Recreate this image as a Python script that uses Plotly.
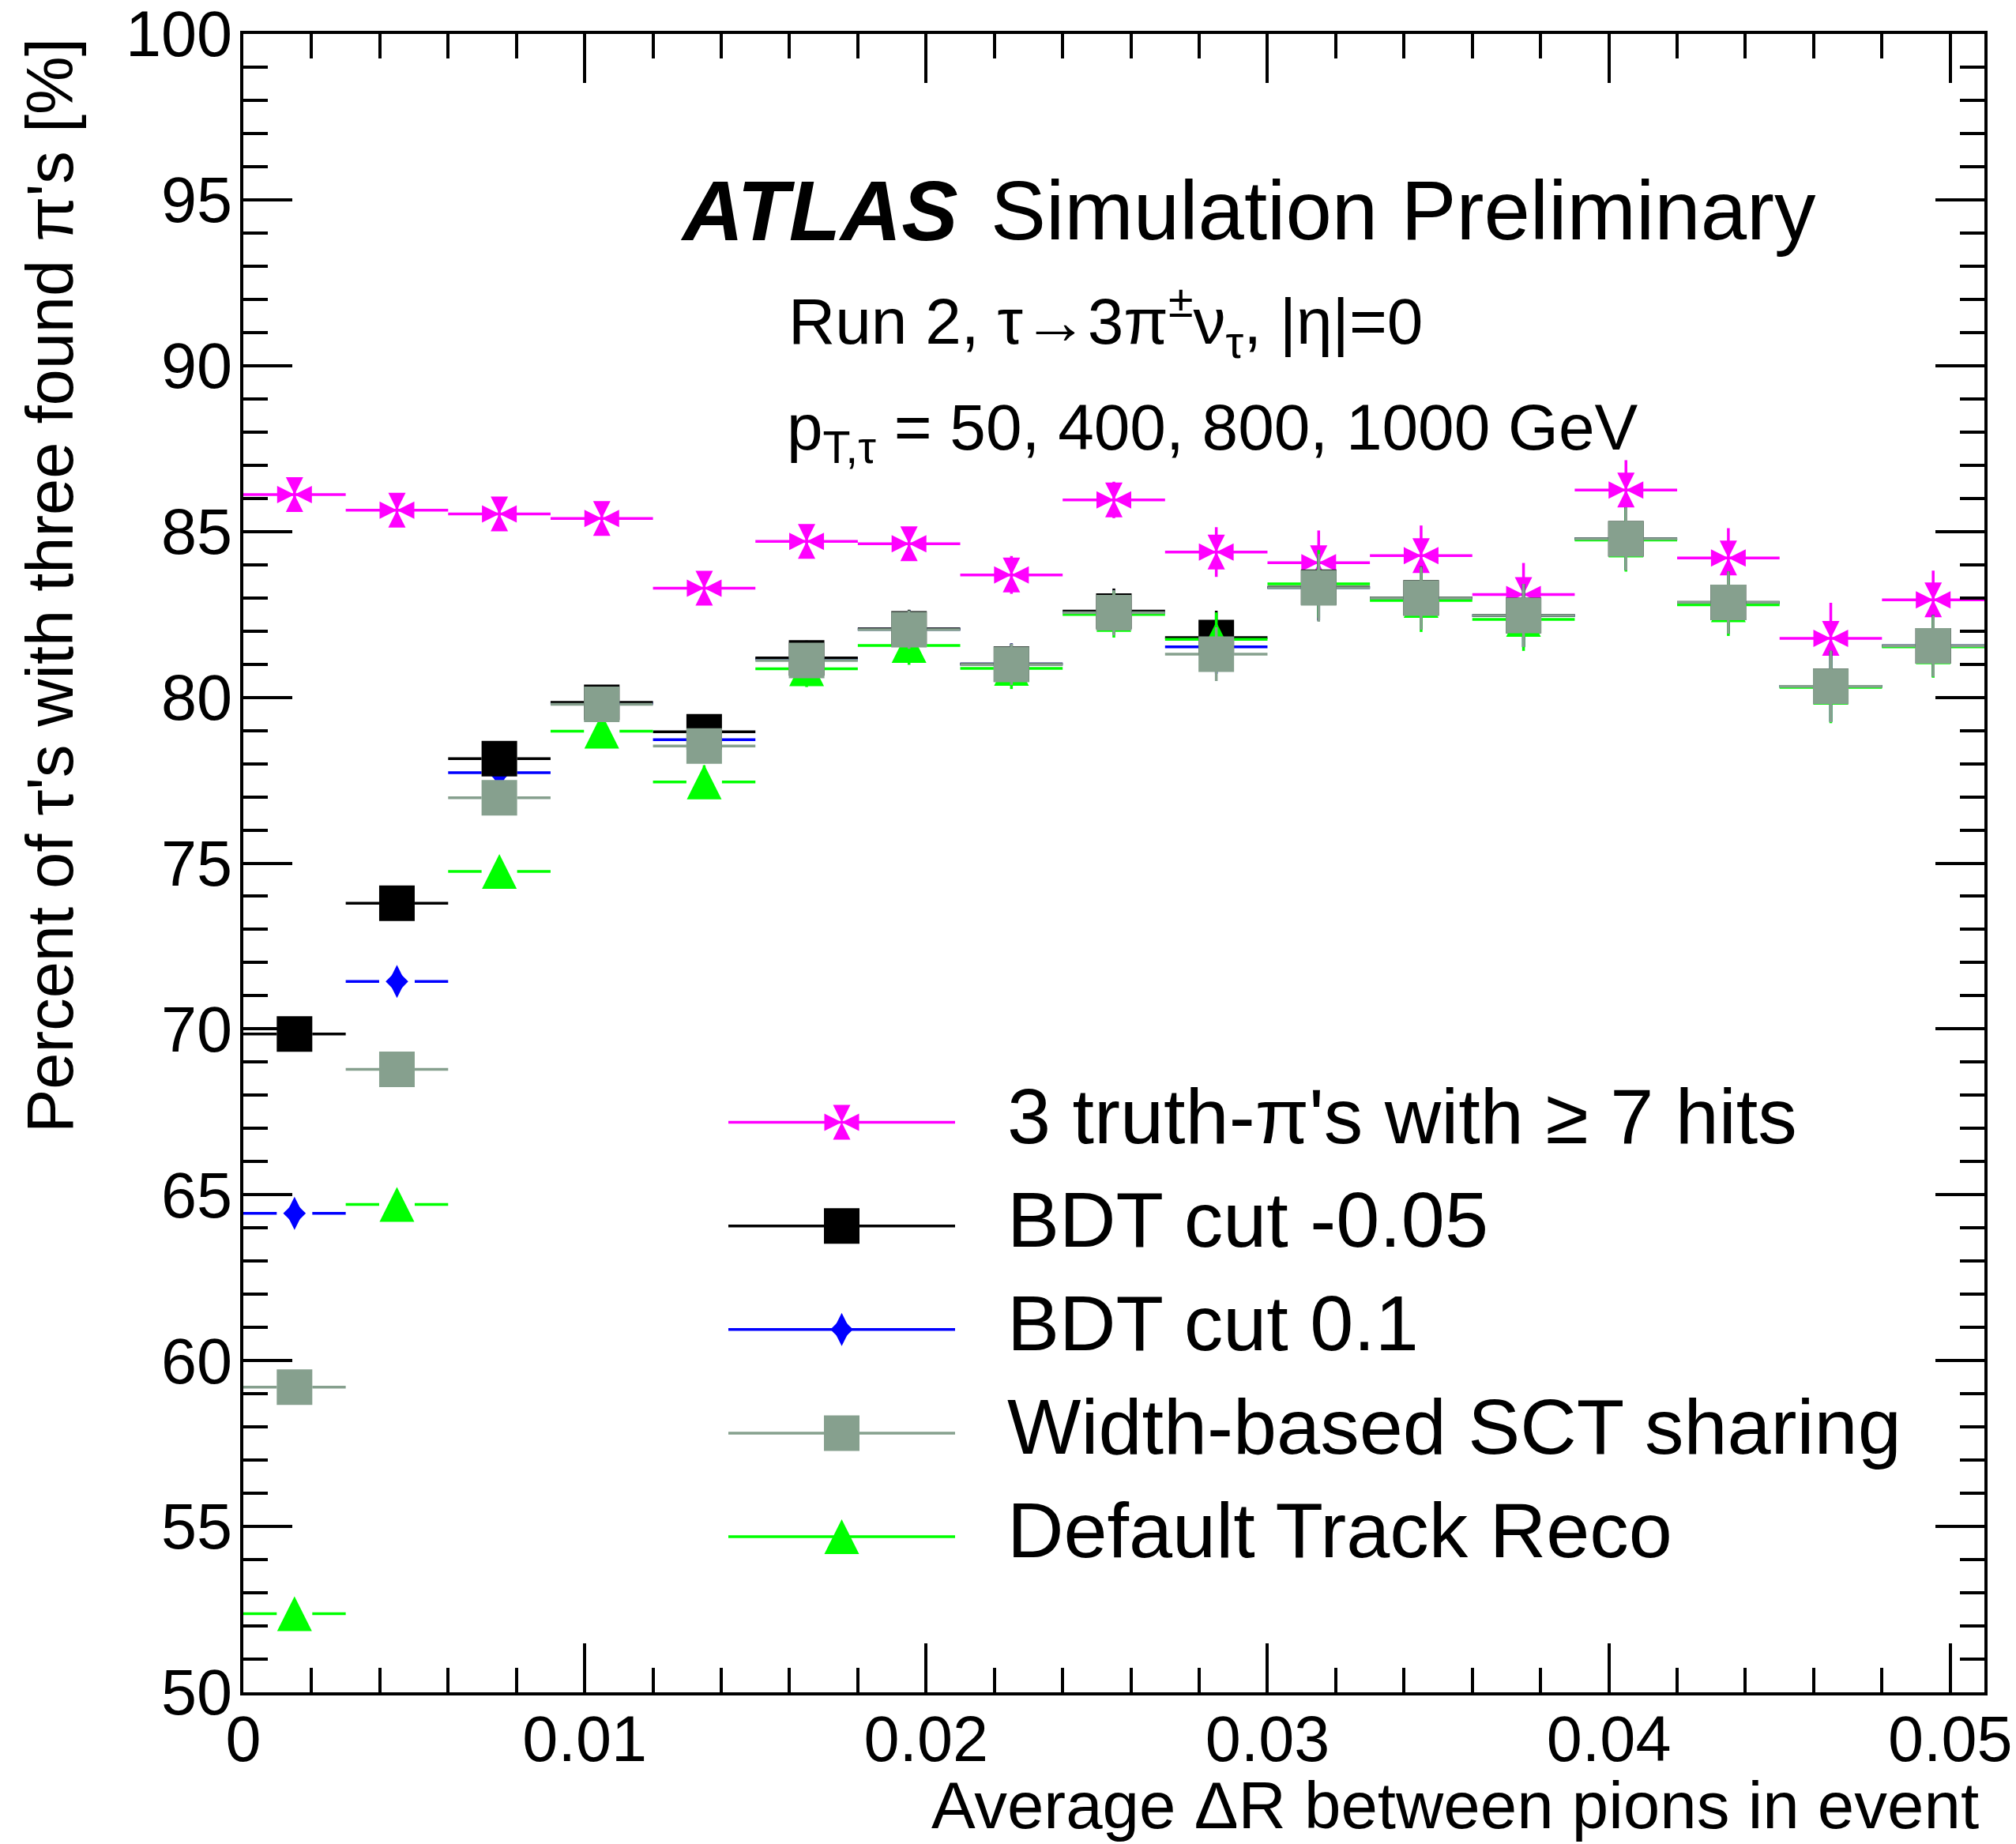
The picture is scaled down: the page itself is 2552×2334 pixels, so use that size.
import plotly.graph_objects as go

# ---------------- data ----------------
bin_centers = [0.0015, 0.0045, 0.0075, 0.0105, 0.0135, 0.0165, 0.0195, 0.0225, 0.0255,
               0.0285, 0.0315, 0.0345, 0.0375, 0.0405, 0.0435, 0.0465, 0.0495]
bin_half_width = 0.0015

truth_vals = [86.11, 85.64, 85.53, 85.39, 83.29, 84.70, 84.63, 83.69, 85.95,
              84.38, 84.06, 84.27, 83.10, 86.25, 84.20, 81.78, 82.94]
truth_errs = [0.25, 0.25, 0.30, 0.30, 0.40, 0.45, 0.50, 0.57, 0.55,
              0.75, 0.97, 0.91, 0.95, 0.90, 0.90, 1.07, 0.88]

bdt_m005_vals = [69.85, 73.79, 78.15, 79.85, 78.96, 81.19, 82.06, 81.00, 82.60,
                 81.80, 83.32, 83.00, 82.47, 84.78, 82.86, 80.33, 81.55]
bdt_m005_errs = [0.35, 0.35, 0.40, 0.45, 0.50, 0.52, 0.58, 0.62, 0.68,
                 0.81, 1.00, 0.95, 0.95, 0.95, 0.94, 1.07, 0.93]

bdt_01_vals = [64.44, 71.43, 77.73, 79.82, 78.72, 81.15, 82.05, 81.00, 82.56,
               81.52, 83.31, 82.99, 82.46, 84.78, 82.85, 80.33, 81.55]
bdt_01_errs = [0.40, 0.38, 0.40, 0.45, 0.50, 0.52, 0.58, 0.62, 0.68,
               0.81, 1.00, 0.95, 0.95, 0.95, 0.94, 1.07, 0.93]

width_vals = [59.20, 68.78, 76.97, 79.79, 78.53, 81.11, 82.04, 80.99, 82.55,
              81.30, 83.30, 82.99, 82.47, 84.78, 82.86, 80.33, 81.55]
width_errs = [0.40, 0.38, 0.40, 0.45, 0.50, 0.52, 0.58, 0.62, 0.68,
              0.81, 1.02, 0.95, 0.95, 0.95, 0.94, 1.08, 0.93]

default_vals = [52.37, 64.71, 74.75, 78.98, 77.45, 80.86, 81.56, 80.87, 82.50,
                81.75, 83.42, 82.92, 82.35, 84.74, 82.79, 80.30, 81.52]
default_errs = [0.40, 0.40, 0.42, 0.45, 0.50, 0.55, 0.58, 0.62, 0.70,
                0.81, 1.02, 0.95, 0.95, 0.95, 0.94, 1.08, 0.93]

series_names = ["3 truth-π's with ≥ 7 hits", "BDT cut -0.05", "BDT cut 0.1",
                "Width-based SCT sharing", "Default Track Reco"]

x_tick_vals = [0, 0.01, 0.02, 0.03, 0.04, 0.05]
x_tick_text = ["0", "0.01", "0.02", "0.03", "0.04", "0.05"]
y_tick_vals = [50, 55, 60, 65, 70, 75, 80, 85, 90, 95, 100]
y_tick_text = ["50", "55", "60", "65", "70", "75", "80", "85", "90", "95", "100"]

X_RANGE = [0, 0.051]
Y_RANGE = [50, 100]

# ---------------- layout geometry / styles ----------------
W, H = 2552, 2334
L, R, T, B = 308, 40, 43, 192
PW = W - L - R
PH = H - T - B
FONT = "Liberation Sans, Arial, Helvetica, sans-serif"

def px_x(px):
    return (px - L) / PW

def px_y(py):
    return (H - B - py) / PH

C_MAG = "#FF00FF"
C_BLK = "#000000"
C_BLU = "#0000FF"
C_GRY = "#86A08E"
C_GRN = "#00FF00"
LW = 3.5
MSIZE = 45
GAP_PX = 22.5
gap_data = GAP_PX / PW * (X_RANGE[1] - X_RANGE[0])


def hsegments(xc, yv, gap):
    xs, ys = [], []
    for c, v in zip(xc, yv):
        lo, hi = c - bin_half_width, c + bin_half_width
        if gap > 0:
            xs += [lo, c - gap, None, c + gap, hi, None]
            ys += [v, v, None, v, v, None]
        else:
            xs += [lo, hi, None]
            ys += [v, v, None]
    return xs, ys


fig = go.Figure()


def add_series(vals, errs, color, marker_specs, gap):
    hx, hy = hsegments(bin_centers, vals, gap)
    fig.add_trace(go.Scatter(x=hx, y=hy, mode="lines", line=dict(color=color, width=LW),
                             showlegend=False, hoverinfo="skip"))
    first = True
    for spec in marker_specs:
        m = dict(color=color, line=dict(width=0))
        m.update(spec)
        kw = {}
        if first:
            kw["error_y"] = dict(type="data", array=errs, visible=True, width=0,
                                 thickness=LW, color=color)
            first = False
        fig.add_trace(go.Scatter(x=bin_centers, y=vals, mode="markers", marker=m,
                                 showlegend=False, **kw))


mag_specs = [dict(symbol="arrow-down", size=22), dict(symbol="arrow-up", size=22),
             dict(symbol="arrow-left", size=22), dict(symbol="arrow-right", size=22)]
blk_specs = [dict(symbol="square", size=MSIZE)]
blu_specs = [dict(symbol="diamond-tall", size=30), dict(symbol="diamond", size=22)]
gry_specs = [dict(symbol="square", size=MSIZE)]
grn_specs = [dict(symbol="arrow-down", size=44, angle=180, standoff=22)]

add_series(truth_vals, truth_errs, C_MAG, mag_specs, 0)
add_series(bdt_01_vals, bdt_01_errs, C_BLU, blu_specs, gap_data)
add_series(bdt_m005_vals, bdt_m005_errs, C_BLK, blk_specs, gap_data)
add_series(default_vals, default_errs, C_GRN, grn_specs, gap_data)
add_series(width_vals, width_errs, C_GRY, gry_specs, gap_data)

# ---------------- custom legend (on its own hidden axes) ----------------
legend_colors = [C_MAG, C_BLK, C_BLU, C_GRY, C_GRN]
legend_specs = [mag_specs, blk_specs, blu_specs, gry_specs, grn_specs]
legend_rows = list(range(len(series_names)))
LEG_ROW_PX = [1420.5, 1552, 1683, 1814, 1945]
LEG_X0_PX, LEG_X1_PX = 922, 1209
row_step = (LEG_ROW_PX[-1] - LEG_ROW_PX[0]) / (len(LEG_ROW_PX) - 1)

for k, col, specs in zip(legend_rows, legend_colors, legend_specs):
    fig.add_trace(go.Scatter(x=[0, 1], y=[k, k], mode="lines", xaxis="x2", yaxis="y2",
                             line=dict(color=col, width=LW), showlegend=False,
                             hoverinfo="skip"))
    for spec in specs:
        m = dict(color=col, line=dict(width=0))
        m.update(spec)
        fig.add_trace(go.Scatter(x=[0.5], y=[k], mode="markers", xaxis="x2", yaxis="y2",
                                 marker=m, showlegend=False, hoverinfo="skip"))

annotations = []
for k, name in zip(legend_rows, series_names):
    annotations.append(dict(text=name, xref="paper", yref="y2", x=px_x(1273), y=k - 8 / row_step,
                            xanchor="left", yanchor="middle", showarrow=False,
                            font=dict(family=FONT, size=99, color="black")))

# ---------------- labels ----------------
annotations += [
    dict(text="<b><i>ATLAS</i></b>", xref="paper", yref="paper", x=px_x(859), y=px_y(267),
         xanchor="left", yanchor="middle", showarrow=False,
         font=dict(family=FONT, size=107, color="black")),
    dict(text="Simulation Preliminary", xref="paper", yref="paper", x=px_x(1252), y=px_y(267),
         xanchor="left", yanchor="middle", showarrow=False,
         font=dict(family=FONT, size=105, color="black")),
    dict(text="Run 2, τ→3π<sup>±</sup>ν<sub>τ</sub>, |η|=0", xref="paper", yref="paper",
         x=px_x(996), y=px_y(407), xanchor="left", yanchor="middle", showarrow=False,
         font=dict(family=FONT, size=82, color="black")),
    dict(text="p<sub>T,τ</sub> = 50, 400, 800, 1000 GeV", xref="paper", yref="paper",
         x=px_x(994), y=px_y(547), xanchor="left", yanchor="middle", showarrow=False,
         font=dict(family=FONT, size=82, color="black")),
    dict(text="Average ΔR between pions in event", xref="paper", yref="paper",
         x=px_x(2507), y=px_y(2285), xanchor="right", yanchor="middle", showarrow=False,
         font=dict(family=FONT, size=83.5, color="black")),
    dict(text="Percent of τ's with three found π's [%]", xref="paper", yref="paper",
         x=px_x(63), y=px_y(46), xanchor="center", yanchor="top", textangle=-90,
         showarrow=False, font=dict(family=FONT, size=83, color="black")),
]

axis_common = dict(showline=True, linecolor="black", linewidth=LW, mirror="ticks",
                   ticks="inside", ticklen=62, tickwidth=LW, tickcolor="black",
                   showgrid=False, zeroline=False, ticklabeloverflow="allow",
                   automargin=False,
                   tickfont=dict(family=FONT, size=81, color="black"))

fig.update_layout(
    width=W, height=H,
    margin=dict(l=L, r=R, t=T, b=B, pad=0, autoexpand=False),
    paper_bgcolor="white", plot_bgcolor="white",
    showlegend=False,
    xaxis=dict(range=X_RANGE, tickmode="array", tickvals=x_tick_vals, ticktext=x_tick_text,
               minor=dict(dtick=0.002, tick0=0, ticks="inside", ticklen=31, tickwidth=LW,
                          tickcolor="black"),
               ticklabelstandoff=-14, **axis_common),
    yaxis=dict(range=Y_RANGE, tickmode="array", tickvals=y_tick_vals, ticktext=y_tick_text,
               minor=dict(dtick=1, tick0=50, ticks="inside", ticklen=31, tickwidth=LW,
                          tickcolor="black"),
               ticklabelstandoff=-6, **axis_common),
    xaxis2=dict(domain=[px_x(LEG_X0_PX), px_x(LEG_X1_PX)], range=[0, 1], anchor="y2",
                visible=False, fixedrange=True, automargin=False),
    yaxis2=dict(domain=[px_y(LEG_ROW_PX[-1] + row_step / 2), px_y(LEG_ROW_PX[0] - row_step / 2)],
                range=[len(series_names) - 0.5, -0.5], anchor="x2", visible=False,
                fixedrange=True, automargin=False),
    annotations=annotations,
    font=dict(family=FONT, color="black"),
)

fig.write_html("out.html")
